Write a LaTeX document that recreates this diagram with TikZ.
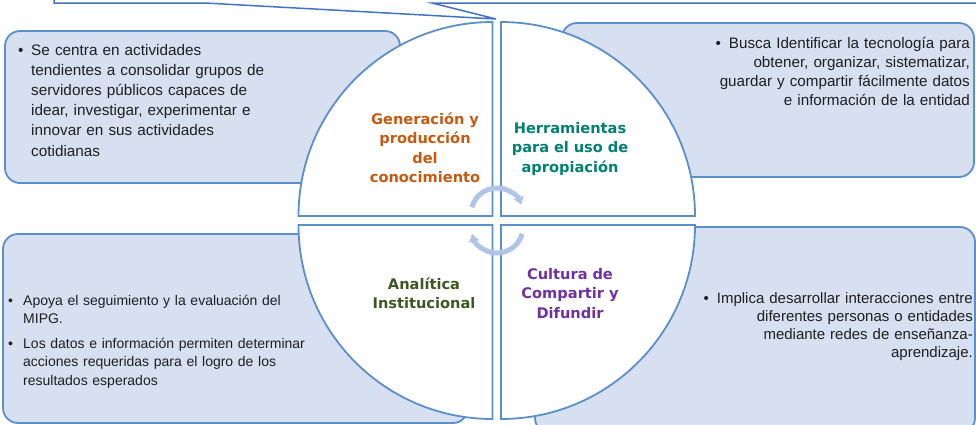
\documentclass[tikz,border=0pt]{standalone}
\usepackage{fontspec}
\setmainfont{Liberation Sans}
\newfontfamily\titlefont{DejaVu Sans Bold}
\usetikzlibrary{arrows.meta}

\definecolor{boxfill}{RGB}{214,224,241}
\definecolor{boxline}{RGB}{91,143,201}
\definecolor{calloutline}{RGB}{68,114,196}
\definecolor{arcblue}{RGB}{175,196,230}
\definecolor{gencolor}{RGB}{197,90,17}
\definecolor{herrcolor}{RGB}{0,128,115}
\definecolor{anacolor}{RGB}{61,87,32}
\definecolor{culcolor}{RGB}{112,48,160}

\begin{document}
\begin{tikzpicture}[x=1pt, y=-1pt, >={Latex[length=8pt,width=12pt]},
    infobox/.style={draw=boxline, fill=boxfill, line width=1.8pt, rounded corners=15pt},
    quad/.style={draw=boxline, fill=white, line width=1.8pt},
    turn/.style={arcblue, line width=5pt, ->},
    title/.style={text width=140pt, align=center, inner sep=0pt, anchor=base,
        font=\titlefont\fontsize{14.6}{19.5}\selectfont},
    body/.style={inner sep=0pt, anchor=base west, text=black!88,
        font=\fontsize{15.3}{20.2}\selectfont}]
    \useasboundingbox (0,0) rectangle (976,424);

    % callout at the top
    \draw[calloutline, line width=1.5pt, fill=white]
        (54,-10) -- (54,3) -- (205,3) -- (496,19) -- (432,3) -- (990,3);

    % the four boxes
    \draw[infobox] (5,31) rectangle (400,183);
    \draw[infobox] (562,23) rectangle (974,177);
    \draw[infobox] (3,234) rectangle (468,423);
    \draw[infobox] (535,227) rectangle (975,433);

    % circle in four parts
    \draw[quad] (492.5,216) -- (298.5,216) arc[start angle=180, end angle=270, radius=194] -- cycle;
    \draw[quad] (501,216) -- (501,22) arc[start angle=270, end angle=360, radius=194] -- cycle;
    \draw[quad] (492.5,225) -- (298.5,225) arc[start angle=180, end angle=90, radius=194] -- cycle;
    \draw[quad] (501,225) -- (501,419) arc[start angle=90, end angle=0, radius=194] -- cycle;

    \draw[turn] (497,214) ++(195:26) arc[start angle=195, end angle=340, radius=26];
    \draw[turn] (497,227) ++(15:26) arc[start angle=15, end angle=165, radius=26];

    \node[title, gencolor] (gen title) at (425,124) {Generación y\\producción\\del\\conocimiento};
    \node[title, herrcolor] (herr title) at (570,133) {Herramientas\\para el uso de\\apropiación};
    \node[title, anacolor] (ana title) at (424,289) {Analítica\\Institucional};
    \node[title, culcolor] (cul title) at (570,279) {Cultura de\\Compartir y\\Difundir};

    \node[body] (gen bullet) at (18,55) {\textbullet};
    \node[body, text width=270pt, align=left] (gen text) at (31,55)
        {Se centra en actividades\\tendientes\  a consolidar grupos\  de\\servidores públicos capaces\  de\\idear, investigar, experimentar e\\innovar en sus actividades\\cotidianas};

    \node[body, text width=320pt, align=right, anchor=base east,
        font=\fontsize{15.2}{19.3}\selectfont] (herr text) at (970,48)
        {\textbullet\hspace{8pt}Busca Identificar la tecnología para\\obtener, organizar, sistematizar,\\guardar y compartir fácilmente datos\\e información de la entidad};

    \node[body, font=\fontsize{14}{18.5}\selectfont] (ana bullet a) at (8,305) {\textbullet};
    \node[body, text width=320pt, align=left, font=\fontsize{14}{18.5}\selectfont] (ana text a) at (23,305)
        {Apoya el seguimiento y la evaluación del\\MIPG.};
    \node[body, font=\fontsize{14}{18.5}\selectfont] (ana bullet b) at (8,348) {\textbullet};
    \node[body, text width=320pt, align=left, font=\fontsize{14}{18.5}\selectfont] (ana text b) at (23,348)
        {Los datos e información permiten\  determinar\\acciones requeridas para el logro de los\\resultados esperados};

    \node[body, text width=320pt, align=right, anchor=base east,
        font=\fontsize{15}{18.2}\selectfont] (cul text) at (973,303)
        {\textbullet\hspace{8pt}Implica desarrollar interacciones\  entre\\diferentes personas o entidades\\mediante redes de enseñanza-\\aprendizaje.};
\end{tikzpicture}
\end{document}
